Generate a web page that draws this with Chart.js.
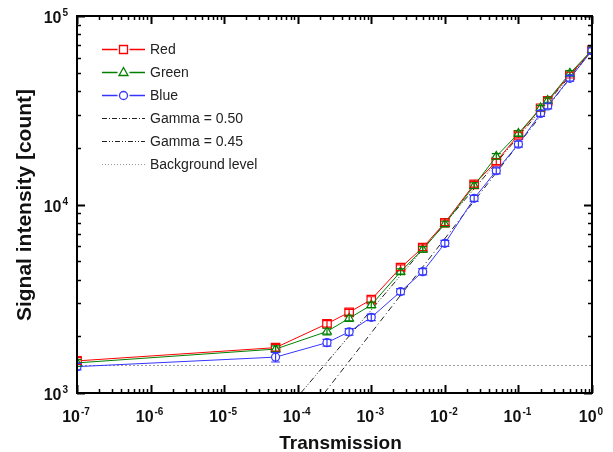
<!DOCTYPE html>
<html><head><meta charset="utf-8">
<script src="https://cdn.jsdelivr.net/npm/chart.js@4/dist/chart.umd.min.js"></script>
<style>html,body{margin:0;padding:0;background:#fff}#wrap{width:613px;height:452px}</style>
</head><body><div id="wrap"><canvas id="c" width="613" height="452"></canvas></div>
<script>
// ---- data ----
const transmission = [1e-7, 5e-5, 2.5e-4, 5e-4, 1e-3, 2.5e-3, 5e-3, 1e-2, 2.5e-2, 5e-2, 0.1, 0.2, 0.25, 0.5, 1];
const redSignal   = [1480, 1740, 2330, 2680, 3130, 4620, 5900, 8000, 12800, 16900, 23400, 32400, 35500, 48600, 66000];
const greenSignal = [1445, 1710, 2120, 2490, 2930, 4400, 5780, 7880, 12600, 18000, 23800, 32500, 35600, 49600, 66000];
const blueSignal  = [1380, 1550, 1850, 2110, 2520, 3450, 4400, 6220, 10780, 15100, 20900, 30400, 33300, 46700, 65500];
const redError    = [60, 70, 90, 100, 110, 160, 200, 280, 450, 600, 800, 1100, 1200, 1700, 2300];
const greenError  = [60, 70, 85, 95, 105, 150, 200, 270, 440, 620, 820, 1100, 1200, 1700, 2300];
const blueError   = [55, 90, 75, 85, 100, 130, 170, 230, 400, 550, 750, 1050, 1150, 1600, 2200];
const gamma050X = [2.3e-4, 1];
const gamma050Y = [1000, 66000];
const gamma045X = [1.1e-4, 1];
const gamma045Y = [1000, 66000];
const backgroundX = [1e-7, 1];
const backgroundY = [1400, 1400];
const xTickValues = [1e-7, 1e-6, 1e-5, 1e-4, 1e-3, 1e-2, 1e-1, 1];
const xTickExponents = ['-7', '-6', '-5', '-4', '-3', '-2', '-1', '0'];
const yTickValues = [1e3, 1e4, 1e5];
const yTickExponents = ['3', '4', '5'];
const legendLabels = ['Red', 'Green', 'Blue', 'Gamma = 0.50', 'Gamma = 0.45', 'Background level'];
const xTitle = 'Transmission';
const yTitle = 'Signal intensity [count]';

const FONT = '"Liberation Sans", Arial, sans-serif';
const toXY = (xs, ys) => xs.map((x, i) => ({x: x, y: ys[i]}));
const RED = '#ff0000', GREEN = '#008000', BLUE = '#3535ff';

const errorPlugin = {
  id: 'errbars',
  afterDatasetsDraw(chart) {
    const xs = chart.scales.x, ys = chart.scales.y, ctx = chart.ctx;
    const sets = [[redSignal, redError, RED], [greenSignal, greenError, GREEN], [blueSignal, blueError, BLUE]];
    ctx.save();
    ctx.beginPath();
    ctx.rect(chart.chartArea.left, chart.chartArea.top, chart.chartArea.width, chart.chartArea.height);
    ctx.clip();
    ctx.lineWidth = 1.2;
    sets.forEach(([vals, errs, col]) => {
      ctx.strokeStyle = col;
      vals.forEach((v, i) => {
        const px = xs.getPixelForValue(transmission[i]);
        const p1 = ys.getPixelForValue(v + errs[i]);
        const p2 = ys.getPixelForValue(v - errs[i]);
        ctx.beginPath();
        ctx.moveTo(px, p1); ctx.lineTo(px, p2);
        ctx.moveTo(px - 4.5, p1); ctx.lineTo(px + 4.5, p1);
        ctx.moveTo(px - 4.5, p2); ctx.lineTo(px + 4.5, p2);
        ctx.stroke();
      });
    });
    ctx.restore();
  }
};

function drawPow(ctx, x, y, exp, align) {
  ctx.font = 'bold 16px ' + FONT;
  const w1 = ctx.measureText('10').width;
  ctx.font = 'bold 10px ' + FONT;
  const w2 = ctx.measureText(exp).width;
  const total = w1 + 1 + w2;
  let x0 = align === 'right' ? x - total : x - total / 2;
  ctx.textAlign = 'left';
  ctx.textBaseline = 'alphabetic';
  ctx.font = 'bold 16px ' + FONT;
  ctx.fillText('10', x0, y);
  ctx.font = 'bold 10px ' + FONT;
  ctx.fillText(exp, x0 + w1 + 1, y - 7);
}

const legendPlugin = {
  id: 'legendbox',
  afterDatasetsDraw(chart) {
    const ctx = chart.ctx;
    const rows = [49, 72, 95, 118, 141, 164];
    const lx1 = 102, lx2 = 145, mx = 123.5;
    const markerCols = [RED, GREEN, BLUE];
    for (let i = 0; i < 3; i++) {
      const y = rows[i] + 0.5;
      ctx.save();
      ctx.setLineDash([]);
      ctx.globalAlpha = 1;
      ctx.strokeStyle = markerCols[i];
      ctx.lineWidth = 1.3;
      ctx.beginPath();
      ctx.moveTo(lx1, y); ctx.lineTo(mx - 6, y);
      ctx.moveTo(mx + 6, y); ctx.lineTo(lx2, y);
      ctx.stroke();
      ctx.beginPath();
      if (i === 0) ctx.rect(mx - 4, y - 4, 8, 8);
      else if (i === 1) { ctx.moveTo(mx, y - 5); ctx.lineTo(mx + 4.5, y + 3); ctx.lineTo(mx - 4.5, y + 3); ctx.closePath(); }
      else ctx.arc(mx, y, 4, 0, Math.PI * 2);
      ctx.stroke();
      ctx.restore();
    }
    const dashes = [[5, 2, 1, 2], [5, 2, 1, 2, 1, 2], [1, 2]];
    const dcols = ['#222', '#222', '#999'];
    for (let i = 0; i < 3; i++) {
      const y = rows[i + 3] + 0.5;
      ctx.save();
      ctx.strokeStyle = dcols[i];
      ctx.lineWidth = 1;
      ctx.setLineDash(dashes[i]);
      ctx.beginPath();
      ctx.moveTo(lx1, y); ctx.lineTo(lx2, y);
      ctx.stroke();
      ctx.restore();
    }
    ctx.save();
    ctx.fillStyle = '#222';
    ctx.font = '14px ' + FONT;
    ctx.textAlign = 'left';
    ctx.textBaseline = 'middle';
    legendLabels.forEach((t, i) => ctx.fillText(t, 150, rows[i] + 1));
    ctx.restore();
  }
};

const framePlugin = {
  id: 'frame',
  afterDraw(chart) {
    const ctx = chart.ctx, a = chart.chartArea, xs = chart.scales.x, ys = chart.scales.y;
    ctx.save();
    ctx.strokeStyle = '#000';
    ctx.fillStyle = '#000';
    for (let d = -7; d <= 0; d++) {
      for (let m = 1; m <= 9; m++) {
        if (d === 0 && m > 1) break;
        const v = m * Math.pow(10, d);
        const px = Math.round(xs.getPixelForValue(v)) + 0.5;
        const len = m === 1 ? 8 : 4;
        ctx.lineWidth = m === 1 ? 2 : 1.5;
        ctx.beginPath();
        ctx.moveTo(px, a.bottom); ctx.lineTo(px, a.bottom - len);
        ctx.moveTo(px, a.top); ctx.lineTo(px, a.top + len);
        ctx.stroke();
      }
    }
    for (let d = 3; d <= 5; d++) {
      for (let m = 1; m <= 9; m++) {
        if (d === 5 && m > 1) break;
        const v = m * Math.pow(10, d);
        const py = Math.round(ys.getPixelForValue(v)) + 0.5;
        const len = m === 1 ? 8 : 4;
        ctx.lineWidth = m === 1 ? 2 : 1.5;
        ctx.beginPath();
        ctx.moveTo(a.left, py); ctx.lineTo(a.left + len, py);
        ctx.moveTo(a.right, py); ctx.lineTo(a.right - len, py);
        ctx.stroke();
      }
    }
    ctx.lineWidth = 2;
    ctx.strokeRect(a.left, a.top, a.right - a.left, a.bottom - a.top);
    ctx.fillStyle = '#111';
    xTickValues.forEach((v, i) => {
      drawPow(ctx, xs.getPixelForValue(v) - 1, a.bottom + 29, xTickExponents[i], 'center');
    });
    yTickValues.forEach((v, i) => {
      drawPow(ctx, a.left - 9, ys.getPixelForValue(v) + 7, yTickExponents[i], 'right');
    });
    ctx.font = 'bold 19px ' + FONT;
    ctx.textAlign = 'center';
    ctx.textBaseline = 'alphabetic';
    ctx.fillText(xTitle, (a.left + a.right) / 2 + 6, 449);
    ctx.translate(31, 205);
    ctx.rotate(-Math.PI / 2);
    ctx.font = 'bold 21px ' + FONT;
    ctx.fillText(yTitle, 0, 0);
    ctx.restore();
  }
};

new Chart(document.getElementById('c'), {
  type: 'line',
  data: {
    datasets: [
      {label: 'Blue', data: toXY(transmission, blueSignal), borderColor: BLUE, backgroundColor: '#fff',
       pointStyle: 'circle', pointRadius: 4, pointBorderWidth: 1.2, borderWidth: 1, order: 1},
      {label: 'Green', data: toXY(transmission, greenSignal), borderColor: GREEN, backgroundColor: '#fff',
       pointStyle: 'triangle', pointRadius: 5, pointBorderWidth: 1.2, borderWidth: 1, order: 2},
      {label: 'Red', data: toXY(transmission, redSignal), borderColor: RED, backgroundColor: '#fff',
       pointStyle: 'rect', pointRadius: 6, pointBorderWidth: 1.2, borderWidth: 1, order: 3},
      {label: 'Gamma = 0.50', data: toXY(gamma050X, gamma050Y), borderColor: '#222', borderWidth: 1,
       borderDash: [6, 3, 1, 3], pointRadius: 0, order: 4},
      {label: 'Gamma = 0.45', data: toXY(gamma045X, gamma045Y), borderColor: '#222', borderWidth: 1,
       borderDash: [6, 2, 1, 2, 1, 2], pointRadius: 0, order: 5},
      {label: 'Background level', data: toXY(backgroundX, backgroundY), borderColor: '#999', borderWidth: 1,
       borderDash: [2, 2], pointRadius: 0, order: 6}
    ]
  },
  options: {
    responsive: false,
    devicePixelRatio: 1,
    animation: false,
    layout: {padding: {left: 77, right: 21, top: 16, bottom: 59}},
    plugins: {legend: {display: false}, tooltip: {enabled: false}},
    events: [],
    scales: {
      x: {type: 'logarithmic', min: 1e-7, max: 1, display: false},
      y: {type: 'logarithmic', min: 1e3, max: 1e5, display: false}
    }
  },
  plugins: [errorPlugin, legendPlugin, framePlugin]
});
</script>
</body></html>
